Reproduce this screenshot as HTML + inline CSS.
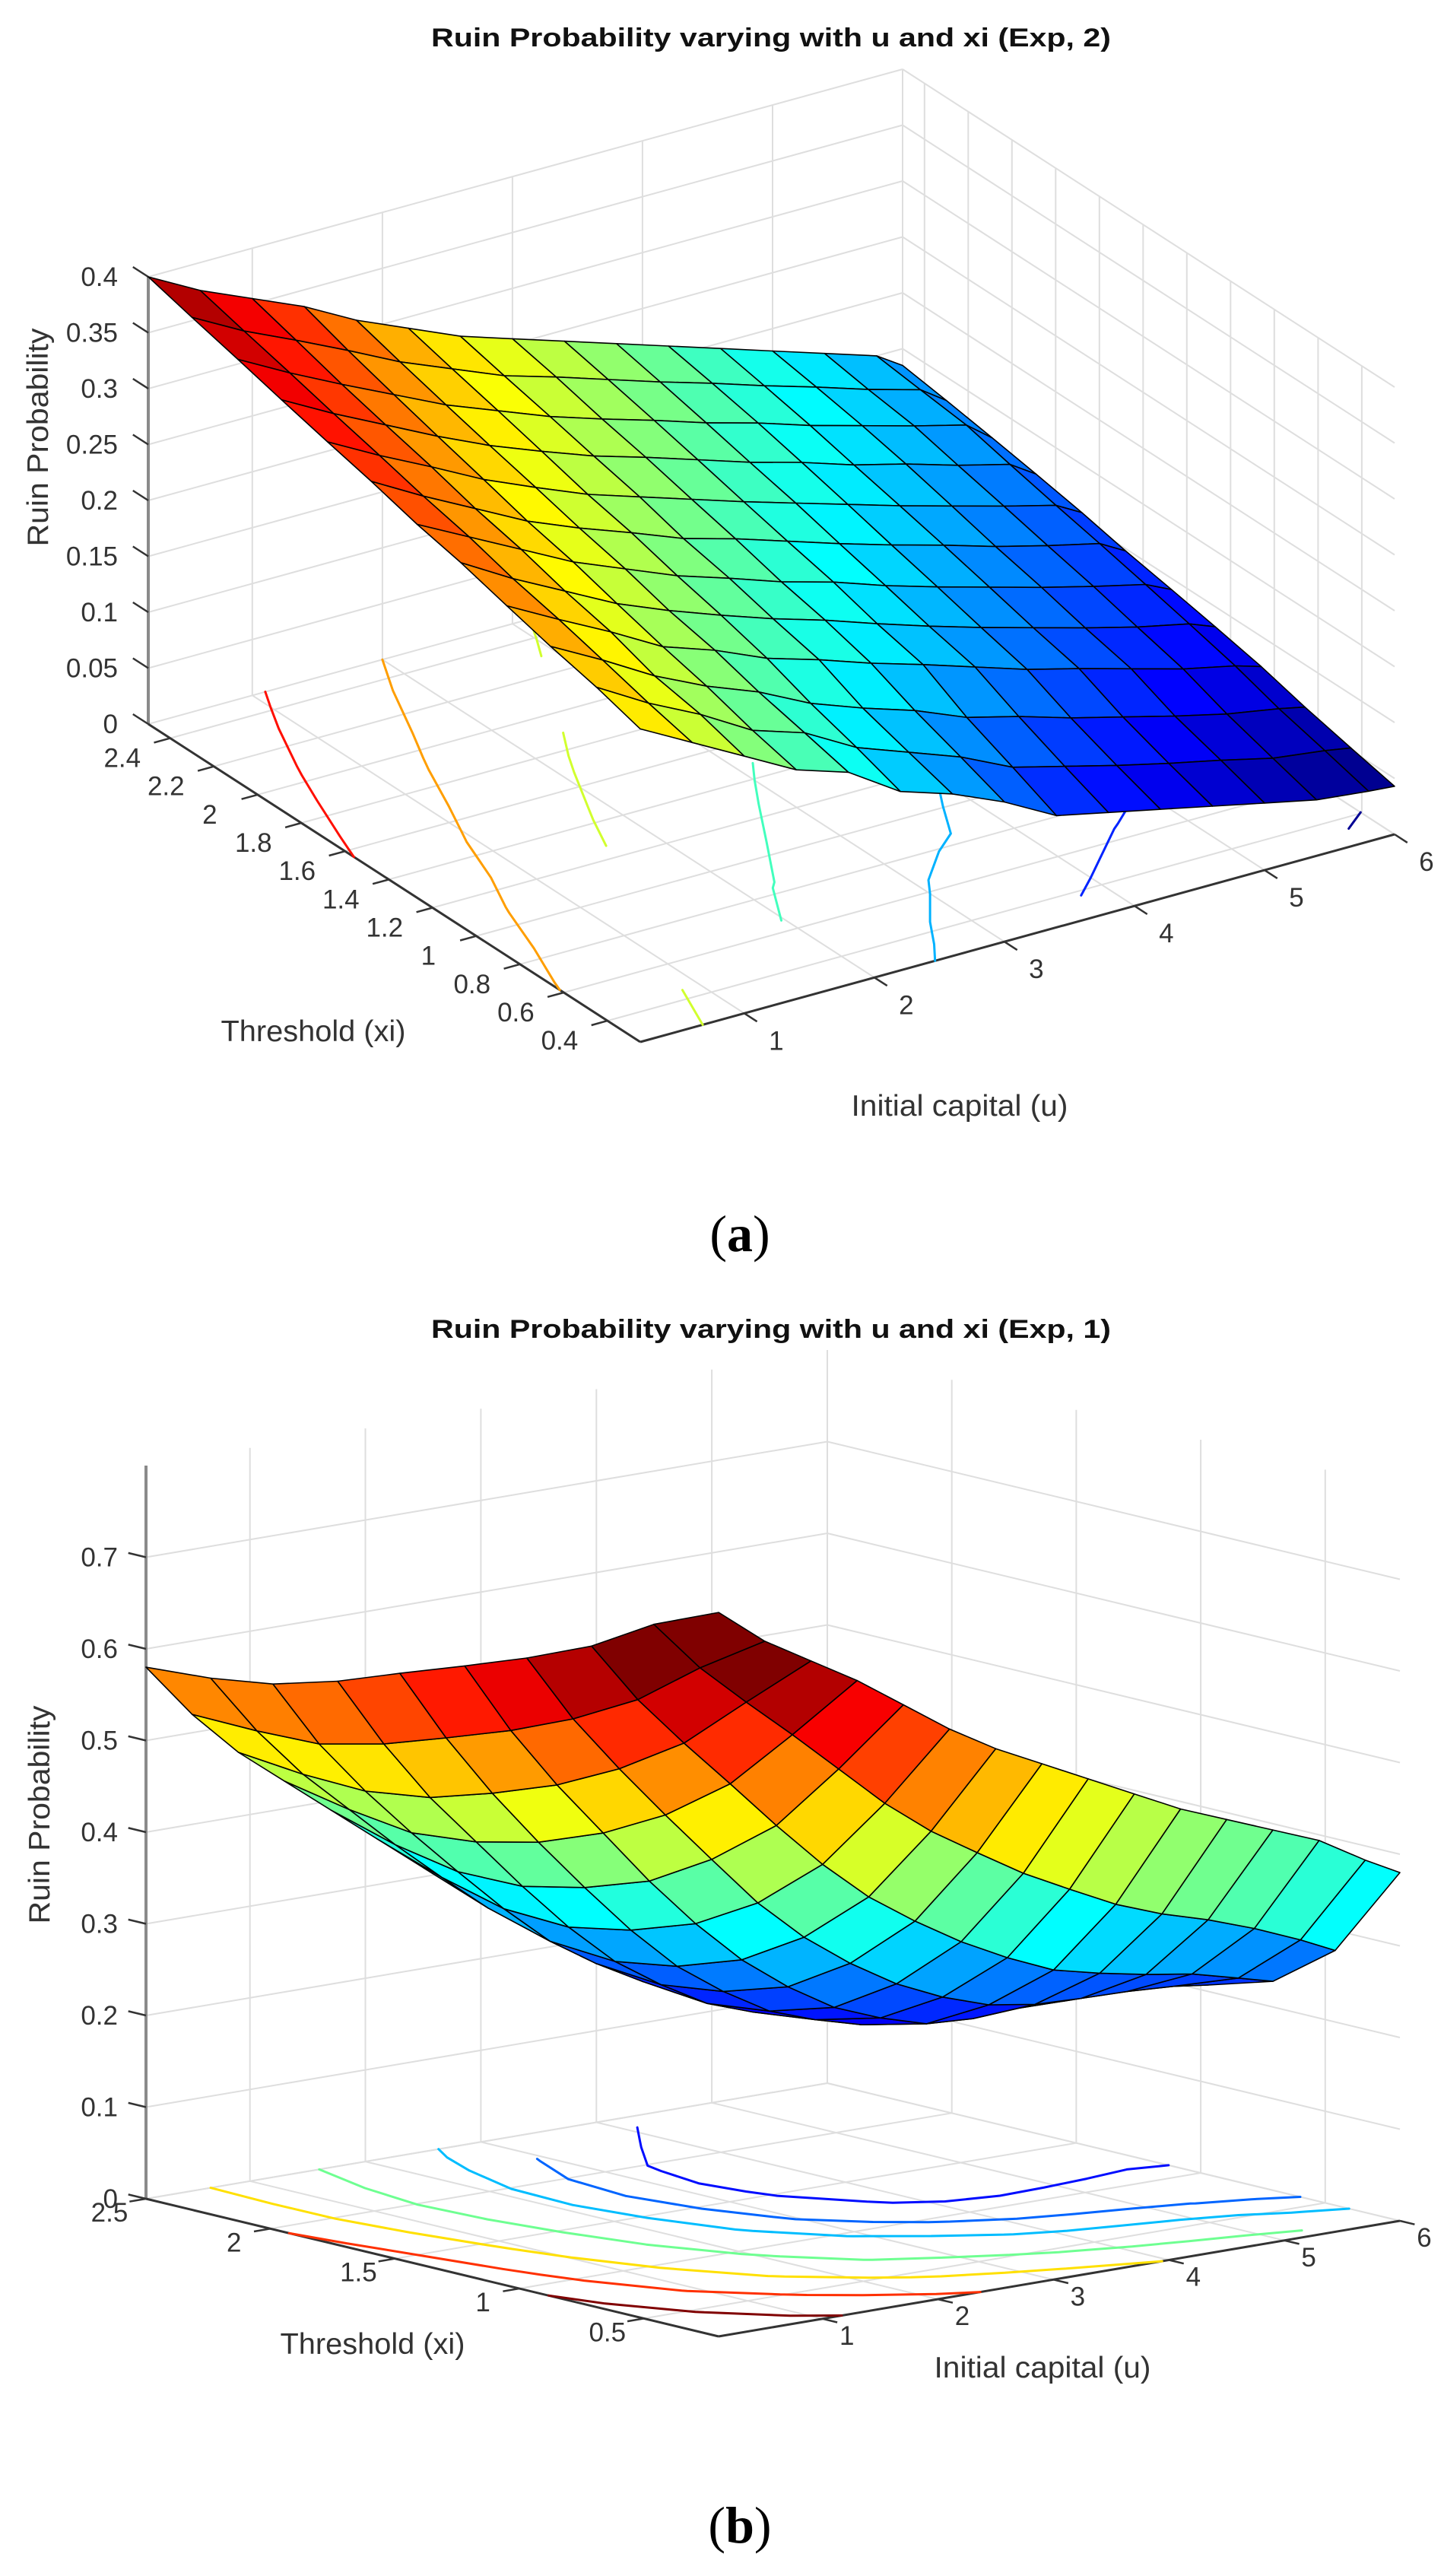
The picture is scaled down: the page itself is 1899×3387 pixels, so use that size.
<!DOCTYPE html>
<html><head><meta charset="utf-8"><title>Ruin probability surfaces</title>
<style>
html,body{margin:0;padding:0;background:#fff;}
svg{display:block;}
text{font-family:"Liberation Sans",sans-serif;fill:#333;}
.ttl{font-weight:bold;font-size:34px;fill:#111;}
.tk{font-size:35px;}
.al{font-size:39px;}
.cap{font-family:"Liberation Serif",serif;font-size:68px;fill:#000;}
</style></head>
<body>
<svg id="fig" width="1899" height="3387" viewBox="0 0 1899 3387" xmlns="http://www.w3.org/2000/svg">
<rect x="0" y="0" width="1899" height="3387" fill="#fff"/>
<g id="chartA">
<text class="ttl" x="1014" y="61" text-anchor="middle" textLength="894" lengthAdjust="spacingAndGlyphs">Ruin Probability varying with u and xi (Exp, 2)</text>
<text class="al" x="0" y="0" text-anchor="middle" textLength="287" lengthAdjust="spacingAndGlyphs" transform="translate(63,575) rotate(-90)">Ruin Probability</text>
<text class="al" x="412" y="1369" text-anchor="middle" textLength="243" lengthAdjust="spacingAndGlyphs">Threshold (xi)</text>
<text class="al" x="1262" y="1467" text-anchor="middle" textLength="285" lengthAdjust="spacingAndGlyphs">Initial capital (u)</text>
</g>
<text class="cap" x="973" y="1645" text-anchor="middle">(<tspan font-weight="bold">a</tspan>)</text>
<g id="chartB">
<text class="ttl" x="1014" y="1759" text-anchor="middle" textLength="894" lengthAdjust="spacingAndGlyphs">Ruin Probability varying with u and xi (Exp, 1)</text>
<text class="al" x="0" y="0" text-anchor="middle" textLength="287" lengthAdjust="spacingAndGlyphs" transform="translate(65,2386) rotate(-90)">Ruin Probability</text>
<text class="al" x="490" y="3095" text-anchor="middle" textLength="243" lengthAdjust="spacingAndGlyphs">Threshold (xi)</text>
<text class="al" x="1371" y="3126" text-anchor="middle" textLength="285" lengthAdjust="spacingAndGlyphs">Initial capital (u)</text>
</g>
<text class="cap" x="973" y="3343" text-anchor="middle">(<tspan font-weight="bold">b</tspan>)</text>
</svg>
<script>
// ---------- Chart (a) data ----------
const aU = [0.2,0.6,1.0,1.4,1.8,2.2,2.6,3.0,3.4,3.8,4.2,4.6,5.0,5.4,5.8,6.0];
const aXi = [0.25,0.45,0.66,0.86,1.07,1.27,1.48,1.68,1.89,2.09,2.3,2.5];
const aZ = [
[.280,.255,.230,.205,.190,.160,.145,.125,.100,.090,.080,.070,.060,.050,.045,.043],
[.292,.265,.242,.215,.200,.174,.157,.140,.118,.106,.094,.083,.073,.062,.056,.052],
[.302,.277,.250,.228,.210,.187,.170,.155,.136,.124,.110,.098,.086,.075,.067,.062],
[.313,.288,.264,.238,.222,.202,.188,.172,.158,.143,.128,.116,.103,.090,.080,.073],
[.325,.298,.274,.250,.231,.214,.198,.184,.168,.153,.139,.126,.113,.101,.091,.082],
[.334,.310,.286,.262,.243,.224,.209,.193,.180,.164,.150,.137,.124,.112,.101,.090],
[.346,.320,.296,.272,.253,.236,.218,.205,.190,.175,.161,.148,.134,.122,.111,.098],
[.356,.331,.308,.284,.264,.245,.230,.215,.200,.186,.172,.158,.145,.132,.120,.107],
[.367,.342,.319,.296,.275,.257,.240,.226,.211,.196,.183,.168,.156,.142,.130,.115],
[.378,.353,.330,.308,.286,.268,.250,.235,.221,.206,.193,.178,.165,.152,.140,.122],
[.389,.364,.343,.321,.298,.279,.260,.246,.231,.216,.202,.187,.173,.158,.145,.129],
[.400,.375,.355,.335,.310,.290,.270,.255,.240,.225,.210,.195,.180,.165,.150,.135]
];
const aUTicks = [1,2,3,4,5,6];
const aUTickLabels = ['1','2','3','4','5','6'];
const aXiTicks = [0.4,0.6,0.8,1.0,1.2,1.4,1.6,1.8,2.0,2.2,2.4];
const aXiTickLabels = ['0.4','0.6','0.8','1','1.2','1.4','1.6','1.8','2','2.2','2.4'];
const aZTicks = [0,0.05,0.1,0.15,0.2,0.25,0.3,0.35,0.4];
const aZTickLabels = ['0','0.05','0.1','0.15','0.2','0.25','0.3','0.35','0.4'];
const aLevels = [0.05,0.1,0.15,0.2,0.25,0.3,0.35];

// ---------- Chart (b) data ----------
const bU = [0.1,0.5,0.9,1.3,1.7,2.1,2.5,2.9,3.3,3.7,4.1,4.5,4.9,5.3,5.7,6.0];
const bXi = [0.2,0.46,0.71,0.97,1.22,1.48,1.73,1.99,2.24,2.5];
const bZ = [
[.790,.750,.720,.690,.655,.620,.590,.565,.540,.515,.490,.470,.450,.430,.400,.380],
[.760,.704,.658,.614,.568,.522,.483,.451,.420,.394,.369,.350,.335,.317,.296,.278],
[.720,.653,.597,.544,.490,.439,.395,.360,.329,.303,.281,.269,.259,.251,.238,.228],
[.690,.615,.552,.493,.436,.380,.334,.297,.266,.243,.226,.218,.216,.215,.212,.207],
[.665,.586,.518,.457,.396,.341,.293,.255,.224,.204,.189,.186,.189,.192,.196,.196],
[.640,.561,.492,.430,.372,.317,.269,.233,.203,.185,.171,.171,.176,.184,.192,.194],
[.615,.538,.471,.414,.357,.304,.258,.224,.195,.177,.165,.165,.171,.180,.190,.193],
[.595,.521,.461,.407,.356,.307,.263,.230,.202,.184,.170,.170,.174,.179,.189,.192],
[.585,.519,.463,.416,.369,.325,.283,.252,.222,.205,.188,.182,.182,.184,.188,.191],
[.580,.520,.470,.430,.390,.350,.310,.280,.250,.230,.210,.200,.195,.190,.190,.190]
];
const bUTicks = [1,2,3,4,5,6];
const bUTickLabels = ['1','2','3','4','5','6'];
const bXiTicks = [0.5,1.0,1.5,2.0,2.5];
const bXiTickLabels = ['0.5','1','1.5','2','2.5'];
const bZTicks = [0,0.1,0.2,0.3,0.4,0.5,0.6,0.7];
const bZTickLabels = ['0','0.1','0.2','0.3','0.4','0.5','0.6','0.7'];
const bLevels = [0.2,0.25,0.3,0.4,0.5,0.6,0.7];

const NS = 'http://www.w3.org/2000/svg';
function mk(tag, attrs, parent){
  const e = document.createElementNS(NS, tag);
  for (const k in attrs) e.setAttribute(k, attrs[k]);
  parent.appendChild(e);
  return e;
}
function jet(t){
  t = Math.max(0, Math.min(1, t));
  const c = v => Math.round(255*Math.max(0, Math.min(1, v)));
  return 'rgb(' + c(1.5-Math.abs(4*t-3)) + ',' + c(1.5-Math.abs(4*t-2)) + ',' + c(1.5-Math.abs(4*t-1)) + ')';
}

function drawChart(root, cfg, U, XI, Z, uT, uTL, xiT, xiTL, zT, zTL, levels, tag){
  const P = (u, xi, z) => {
    const s = (u-cfg.umin)/(cfg.umax-cfg.umin), r = (xi-cfg.ximin)/(cfg.ximax-cfg.ximin);
    return [cfg.Fr[0]+s*cfg.U[0]+r*cfg.X[0], cfg.Fr[1]+s*cfg.U[1]+r*cfg.X[1]-cfg.k*z];
  };
  let vx = -cfg.X[0]*cfg.k, vy = cfg.U[0]*cfg.k, vz = cfg.U[0]*cfg.X[1]-cfg.X[0]*cfg.U[1];
  if (vz < 0) { vx = -vx; vy = -vy; vz = -vz; }
  const near = (u, xi, z) => vx*(u-cfg.umin)/(cfg.umax-cfg.umin) + vy*(xi-cfg.ximin)/(cfg.ximax-cfg.ximin) + vz*z;
  const line = (a, b, attrs, parent) => mk('line', Object.assign({x1:a[0].toFixed(1), y1:a[1].toFixed(1), x2:b[0].toFixed(1), y2:b[1].toFixed(1)}, attrs), parent);
  let zmin = Infinity, zmax = -Infinity;
  Z.forEach(row => row.forEach(v => { zmin = Math.min(zmin, v); zmax = Math.max(zmax, v); }));
  if (cfg.clim) { zmin = cfg.clim[0]; zmax = cfg.clim[1]; }
  const col = v => jet((v-zmin)/(zmax-zmin));

  const grid = mk('g', {stroke:'#dedede', 'stroke-width':2, fill:'none'}, root);
  
  
  uT.forEach(u => {
    const g1 = line(P(u, cfg.ximin, 0), P(u, cfg.ximax, 0), {}, grid);
    
    
    const g2 = line(P(u, cfg.ximax, 0), P(u, cfg.ximax, cfg.zmax), {}, grid);
    
    
  });
  xiT.forEach(xi => {
    const g1 = line(P(cfg.umin, xi, 0), P(cfg.umax, xi, 0), {}, grid);
    
    
    const g2 = line(P(cfg.umax, xi, 0), P(cfg.umax, xi, cfg.zmax), {}, grid);
    
    
  });
  zT.forEach(z => {
    const g1 = line(P(cfg.umin, cfg.ximax, z), P(cfg.umax, cfg.ximax, z), {}, grid);
    
    
    const g2 = line(P(cfg.umax, cfg.ximax, z), P(cfg.umax, cfg.ximin, z), {}, grid);
    
    
  });

  const axes = mk('g', {}, root);
  
  
  const L0 = P(cfg.umin, cfg.ximax, 0), F0 = P(cfg.umin, cfg.ximin, 0), R0 = P(cfg.umax, cfg.ximin, 0);
  const zax = line(L0, P(cfg.umin, cfg.ximax, cfg.zmax), {stroke:'#8a8a8a', 'stroke-width':4}, axes);
  
  
  const xax = line(L0, F0, {stroke:'#333', 'stroke-width':3}, axes);
  
  
  const uax = line(F0, R0, {stroke:'#333', 'stroke-width':3}, axes);
  
  
  const xl = Math.hypot(cfg.X[0], cfg.X[1]), ul = Math.hypot(cfg.U[0], cfg.U[1]);
  const xo = [cfg.X[0]/xl, cfg.X[1]/xl], uo = [cfg.U[0]/ul, cfg.U[1]/ul];
  zT.forEach((z, i) => {
    const p = P(cfg.umin, cfg.ximax, z);
    const t = line(p, [p[0]+xo[0]*24, p[1]+xo[1]*24], {stroke:'#333', 'stroke-width':2.5}, axes);
    
    
    const tx = mk('text', {x:155, y:(p[1]+12).toFixed(1), 'text-anchor':'end', class:'tk'}, axes);
    tx.textContent = zTL[i];
    
    
  });
  xiT.forEach((xi, i) => {
    const p = P(cfg.umin, xi, 0);
    const t = line(p, [p[0]-uo[0]*22, p[1]-uo[1]*22], {stroke:'#333', 'stroke-width':2.5}, axes);
    
    
    const tx = mk('text', {x:(p[0]+cfg.xiOff[0]).toFixed(1), y:(p[1]+cfg.xiOff[1]+12).toFixed(1), 'text-anchor':'middle', class:'tk'}, axes);
    tx.textContent = xiTL[i];
    
    
  });
  uT.forEach((u, i) => {
    const p = P(u, cfg.ximin, 0);
    const t = line(p, [p[0]-xo[0]*20, p[1]-xo[1]*20], {stroke:'#333', 'stroke-width':2.5}, axes);
    
    
    const tx = mk('text', {x:(p[0]+cfg.uOff[0]).toFixed(1), y:(p[1]+cfg.uOff[1]+12).toFixed(1), 'text-anchor':'middle', class:'tk'}, axes);
    tx.textContent = uTL[i];
    
    
  });

  const cg = mk('g', {fill:'none', 'stroke-width':3, 'stroke-linecap':'round'}, root);
  
  
  levels.forEach(lv => {
    let d = '';
    for (let j = 0; j < XI.length-1; j++) for (let i = 0; i < U.length-1; i++) {
      const c = [[U[i],XI[j],Z[j][i]],[U[i+1],XI[j],Z[j][i+1]],[U[i+1],XI[j+1],Z[j+1][i+1]],[U[i],XI[j+1],Z[j+1][i]]];
      const pts = [];
      for (let e = 0; e < 4; e++) {
        const a = c[e], b = c[(e+1)%4];
        if ((a[2]-lv)*(b[2]-lv) < 0) {
          const t = (lv-a[2])/(b[2]-a[2]);
          pts.push(P(a[0]+t*(b[0]-a[0]), a[1]+t*(b[1]-a[1]), 0));
        }
      }
      for (let k = 0; k+1 < pts.length; k += 2)
        d += 'M' + pts[k][0].toFixed(1) + ',' + pts[k][1].toFixed(1) + 'L' + pts[k+1][0].toFixed(1) + ',' + pts[k+1][1].toFixed(1);
    }
    if (d) {
      const pe = mk('path', {d:d, stroke:col(lv)}, cg);
      
      
    }
  });

  const sg = mk('g', {stroke:'#000', 'stroke-width':1.6, 'stroke-linejoin':'round'}, root);
  
  
  const quads = [];
  for (let j = 0; j < XI.length-1; j++) for (let i = 0; i < U.length-1; i++) {
    const c = [[U[i],XI[j],Z[j][i]],[U[i+1],XI[j],Z[j][i+1]],[U[i+1],XI[j+1],Z[j+1][i+1]],[U[i],XI[j+1],Z[j+1][i]]];
    let n = 0, zm = 0;
    c.forEach(q => { n += near(q[0], q[1], q[2]); zm += q[2]; });
    quads.push({c:c, n:n/4, z:zm/4});
  }
  quads.sort((a, b) => a.n - b.n);
  quads.forEach(q => {
    const pts = q.c.map(p => P(p[0], p[1], p[2]).map(v => v.toFixed(1)).join(',')).join(' ');
    const pg = mk('polygon', {points:pts, fill:col(q.z)}, sg);
    
    
  });
}

const cfgA = {Fr:[842,1370], U:[992,-273], X:[-647,-418], k:1470, umin:0.2, umax:6, ximin:0.25, ximax:2.5, zmax:0.4, xiOff:[-63,26], uOff:[42,36]};
const cfgB = {Fr:[945,3072], U:[896,-152], X:[-753,-181], k:1205, umin:0.1, umax:6, ximin:0.2, ximax:2.5, zmax:0.8, xiOff:[-48,18], uOff:[32,22], clim:[0.12,0.70]};

const gA = document.getElementById('chartA');
const gB = document.getElementById('chartB');
const plotA = document.createElementNS(NS, 'g');


gA.insertBefore(plotA, gA.firstChild);
const plotB = document.createElementNS(NS, 'g');


gB.insertBefore(plotB, gB.firstChild);
drawChart(plotA, cfgA, aU, aXi, aZ, aUTicks, aUTickLabels, aXiTicks, aXiTickLabels, aZTicks, aZTickLabels, aLevels, 'chart-a');
drawChart(plotB, cfgB, bU, bXi, bZ, bUTicks, bUTickLabels, bXiTicks, bXiTickLabels, bZTicks, bZTickLabels, bLevels, 'chart-b');
</script>
</body></html>
